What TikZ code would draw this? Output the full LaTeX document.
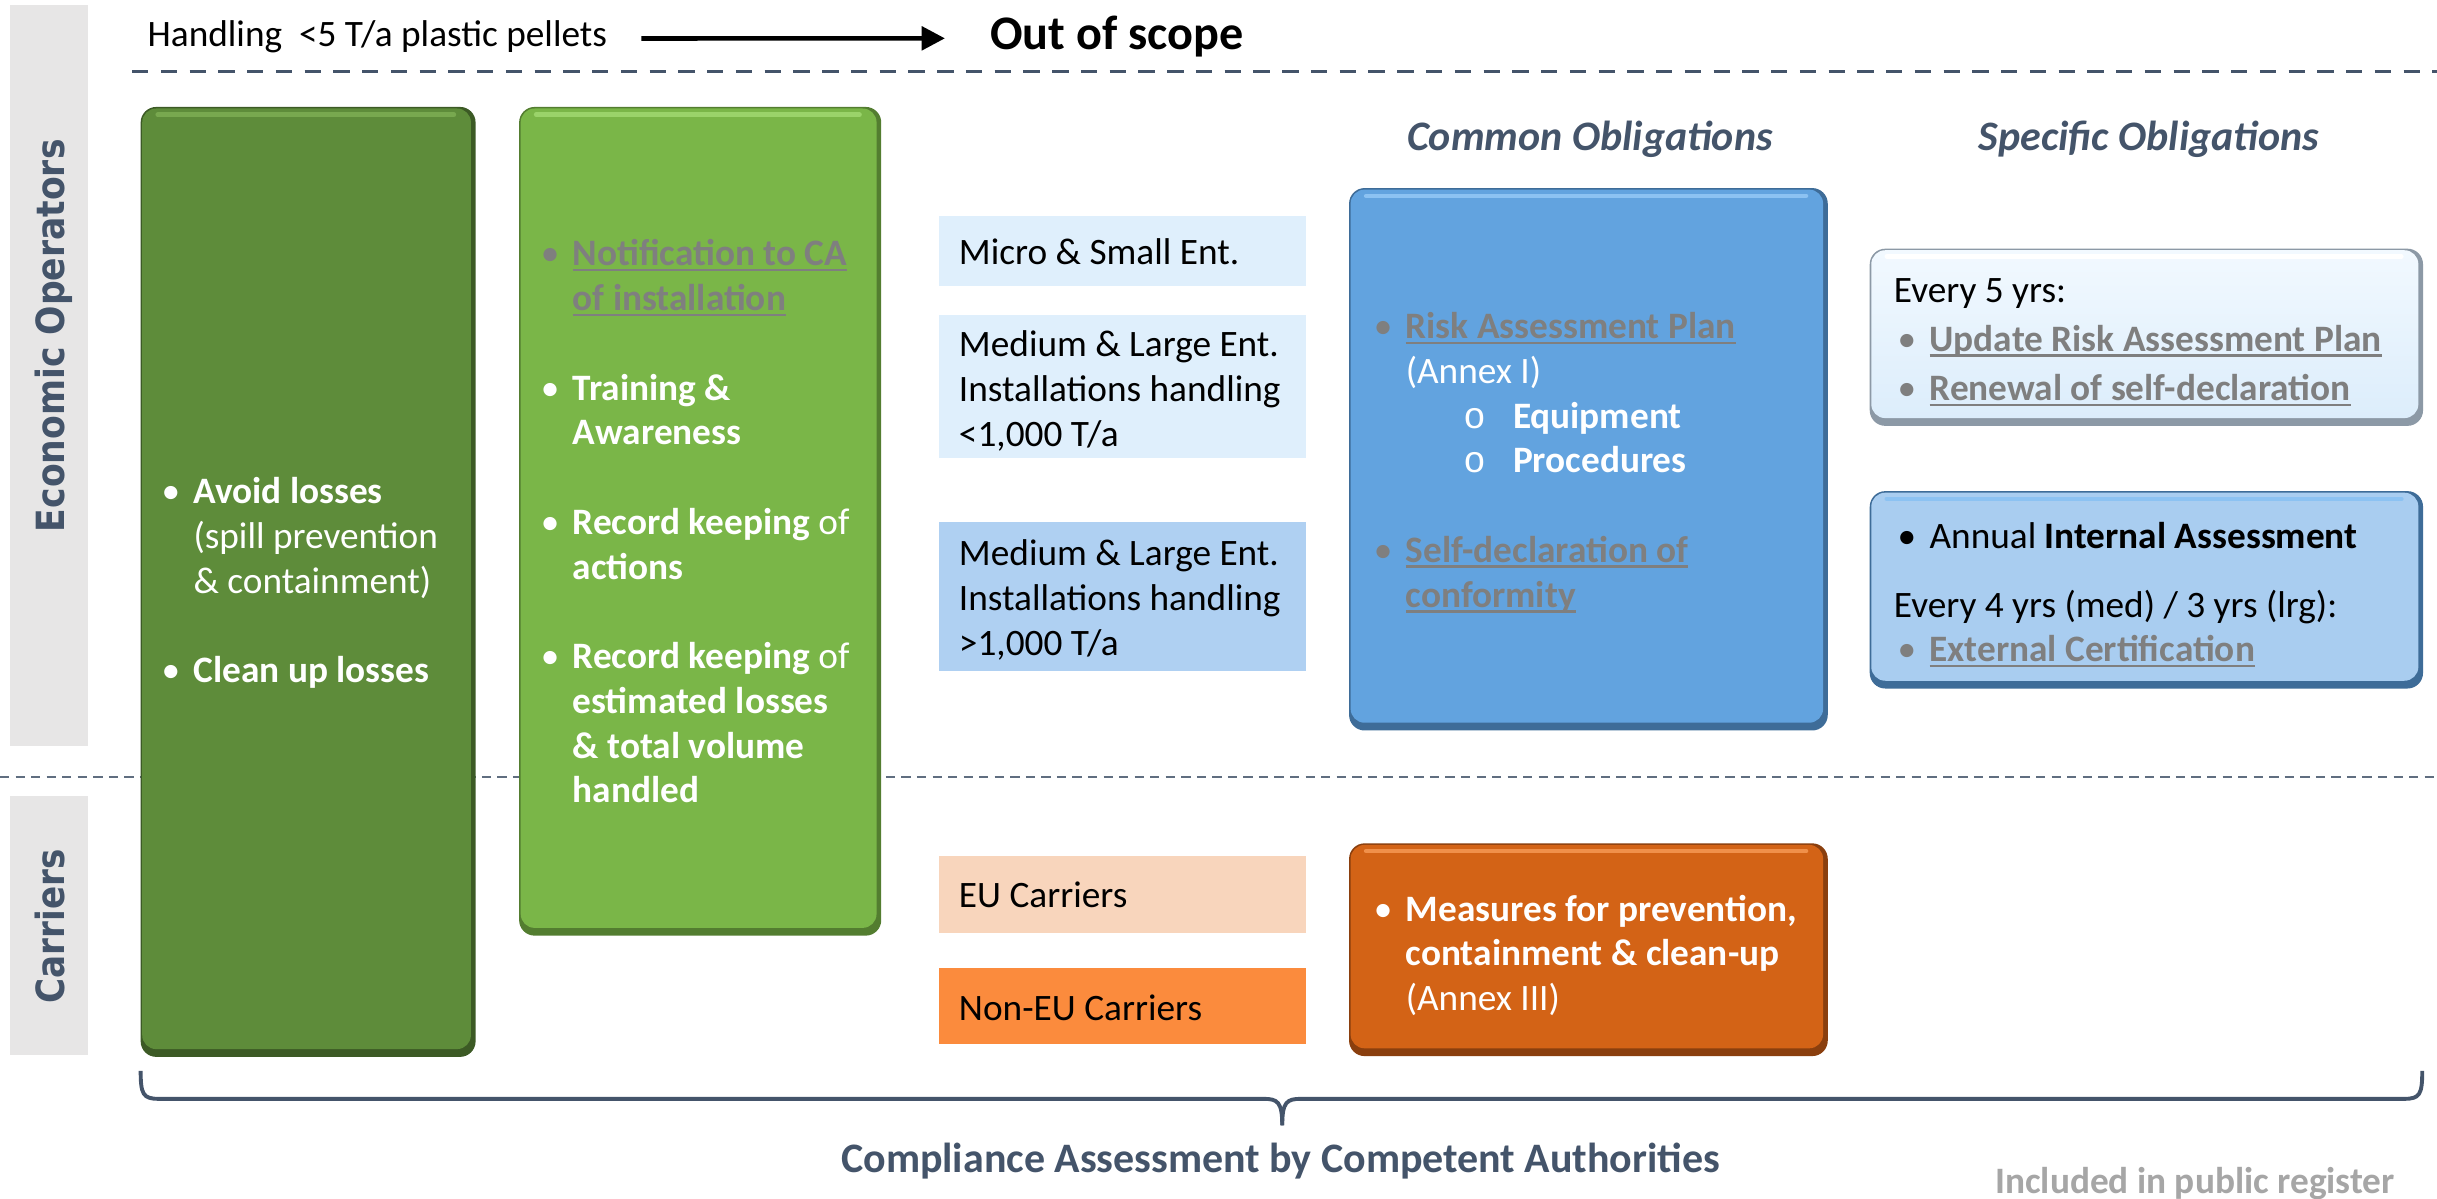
\documentclass[tikz,border=0pt]{standalone}
\usepackage{fontspec}
\setmainfont{Carlito}
\newfontfamily\verd{DejaVu Sans}
\newfontfamily\monofnt{Liberation Mono}
\usetikzlibrary{arrows.meta}
\definecolor{slate}{HTML}{44546A}
\definecolor{gbar}{HTML}{E7E6E6}
\definecolor{dgreen}{HTML}{5E8C3A}
\definecolor{dgreenE}{HTML}{3C5A25}
\definecolor{dgreenH}{HTML}{78A84F}
\definecolor{lgreen}{HTML}{7AB648}
\definecolor{lgreenE}{HTML}{537D30}
\definecolor{lgreenH}{HTML}{9AD36A}
\definecolor{bbox}{HTML}{62A3DF}
\definecolor{bboxE}{HTML}{3E6C98}
\definecolor{bboxH}{HTML}{8CC2F2}
\definecolor{obox}{HTML}{D36316}
\definecolor{oboxE}{HTML}{8A3F0E}
\definecolor{oboxH}{HTML}{F0904A}
\definecolor{lblue}{HTML}{DFEFFC}
\definecolor{mblue}{HTML}{AFD0F2}
\definecolor{peach}{HTML}{F8D5BC}
\definecolor{lorange}{HTML}{FB8B3D}
\definecolor{tgray}{HTML}{7F7F7F}
\definecolor{incgray}{HTML}{A6A6A6}
\definecolor{sonefill}{HTML}{DCEDFB}
\definecolor{sonetop}{HTML}{F2F9FF}
\definecolor{stwofill}{HTML}{A9CDF0}
\definecolor{sboxE}{HTML}{8C99A6}
% x0 y0 x1 y1 {fill style} edge highlight
\newcommand\bevbox[7]{%
  \fill[#6, rounded corners=10pt] (#1,#2) rectangle (#3,#4);
  \path[#5, rounded corners=9pt] (#1+1,#2+1) rectangle (#3-3,#4-5);
  \draw[#7, line width=3pt, line cap=round] (#1+11,#2+5) -- (#3-14,#2+5);
}
\newcommand\bul{\makebox[20.5pt][l]{\textbullet}}
\newcommand\ind{\hspace*{20.5pt}}
\newsavebox\gulbox
\newcommand\gul[1]{{\color{tgray}\sbox\gulbox{\textbf{#1}}\rlap{\rule[-3.5pt]{\wd\gulbox}{1.5pt}}\usebox\gulbox}}
\newcommand\subb{\makebox[69pt][l]{\hspace*{37pt}{\monofnt o}}}
\begin{document}
\begin{tikzpicture}[x=1pt,y=-1pt,
  txt/.style={anchor=base west, inner sep=0pt, outer sep=0pt, align=left, font=\fontsize{24}{28.8}\selectfont},
  side/.style={anchor=base, rotate=90, inner sep=0pt, text=slate, font=\verd\bfseries\fontsize{25}{30}\selectfont},
  head/.style={anchor=base, inner sep=0pt, text=slate, font=\bfseries\itshape\fontsize{27}{32}\selectfont}]
\useasboundingbox (0,0) rectangle (1568,771);
\fill[white] (0,0) rectangle (1568,771);
% side bars
\fill[gbar] (6.5,3) rectangle (56.5,480);
\fill[gbar] (6.5,512) rectangle (56.5,679);
\node[side] (eo) at (41.5,216) {\scalebox{0.89}[1]{Economic Operators}};
\node[side] (car) at (41.5,596) {\scalebox{0.88}[1]{Carriers}};
% dashed separators
\draw[slate, line width=2pt, dash pattern=on 10.5pt off 8pt] (85,46) -- (1568,46);
\draw[slate!85, line width=1.2pt, dash pattern=on 6pt off 4pt] (0,500) -- (1568,500);
% top line
\node[txt] (hand) at (95,30) {Handling\ \ <5 T/a plastic pellets};
\node[anchor=base west, inner sep=0pt, font=\bfseries\fontsize{31}{36}\selectfont] (oos) at (637,32) {Out of scope};
\draw[-{Triangle[length=15pt,width=15pt]}, line width=3pt] ([xshift=22pt,yshift=-1pt]hand.east) -- ([xshift=-29pt,yshift=-1pt]oos.west);
% big boxes
\bevbox{90.5}{68.8}{306}{680}{fill=dgreen}{dgreenE}{dgreenH}
\bevbox{334}{68.8}{567}{602}{fill=lgreen}{lgreenE}{lgreenH}
\bevbox{868}{121}{1176}{470}{fill=bbox}{bboxE}{bboxH}
\bevbox{868}{542.6}{1176}{679.5}{fill=obox}{oboxE}{oboxH}
\bevbox{1203}{160}{1559}{274}{top color=sonetop, bottom color=sonefill}{sboxE}{white}
\bevbox{1203}{316}{1559}{443}{fill=stwofill}{bboxE}{bboxH}
% category boxes
\fill[lblue] (604,139) rectangle (840,184);
\fill[lblue] (604,202.6) rectangle (840,294.6);
\fill[mblue] (604,335.7) rectangle (840,431.8);
\fill[peach] (604,551) rectangle (840,600);
\fill[lorange] (604,623) rectangle (840,672);
% texts in green boxes (node base = baseline of last line)
\node[txt, text=white] (dgt) at (104,439.2) {\bul\textbf{Avoid losses}\\ \ind(spill prevention\\ \ind\& containment)\\[28.8pt] \bul\textbf{Clean up losses}};
\node[txt, text=white] (lgt) at (348,516.6) {{\color{tgray}\bul}\gul{Notification to CA}\\ \ind\gul{of installation}\\[28.8pt]
\bul\textbf{Training \&}\\ \ind\textbf{Awareness}\\[28.8pt]
\bul\textbf{Record keeping} of\\ \ind\textbf{actions}\\[28.8pt]
\bul\textbf{Record keeping} of\\ \ind\textbf{estimated losses}\\ \ind\textbf{\& total volume}\\ \ind\textbf{handled}};
% category texts
\node[txt] (micro) at (617,170) {Micro \& Small Ent.};
\node[txt] (med1) at (617,287) {Medium \& Large Ent.\\ Installations handling\\ <1,000 T/a};
\node[txt] (med2) at (617,421.6) {Medium \& Large Ent.\\ Installations handling\\ >1,000 T/a};
\node[txt] (euc) at (617,584) {EU Carriers};
\node[txt] (neu) at (617,656.6) {Non-EU Carriers};
% headers
\node[head] (co) at (1023,97) {Common Obligations};
\node[head] (so) at (1382.7,97) {Specific Obligations};
% common obligations
\node[txt, text=white] (cot) at (884,390.6) {{\color{tgray}\bul}\gul{Risk Assessment Plan}\\
\ind(Annex I)\\
\ind\subb\textbf{Equipment}\\
\ind\subb\textbf{Procedures}\\[28.8pt]
{\color{tgray}\bul}\gul{Self-declaration of}\\
\ind\gul{conformity}};
\node[txt, text=white] (ort) at (884,650.2) {\bul\textbf{Measures for prevention,}\\ \ind\textbf{containment \& clean-up}\\ \ind(Annex III)};
% specific obligations
\node[txt] (s1a) at (1218.6,194.7) {Every 5 yrs:};
\node[txt] (s1b) at (1221,226) {{\color{tgray}\bul}\gul{Update Risk Assessment Plan}};
\node[txt] (s1c) at (1221,258) {{\color{tgray}\bul}\gul{Renewal of self-declaration}};
\node[txt] (s2a) at (1221,353) {\bul Annual \textbf{Internal Assessment}};
\node[txt] (s2b) at (1218.6,397) {Every 4 yrs (med) / 3 yrs (lrg):};
\node[txt] (s2c) at (1221,425.7) {{\color{tgray}\bul}\gul{External Certification}};
% brace
\draw[slate, line width=2.5pt, line join=round] (90.5,689) .. controls (90.5,704) and (92,707) .. (102,707) -- (813,707) .. controls (822,707) and (825,709) .. (825,724);
\draw[slate, line width=2.5pt, line join=round] (825,724) .. controls (825,709) and (828,707) .. (837,707) -- (1547,707) .. controls (1557,707) and (1558.5,704) .. (1558.5,689);
\node[anchor=base, inner sep=0pt, text=slate, font=\bfseries\fontsize{27}{32}\selectfont] (cmp) at (824,754.5) {Compliance Assessment by Competent Authorities};
\node[anchor=base east, inner sep=0pt, text=incgray, font=\bfseries\fontsize{24}{28}\selectfont] (inc) at (1541,768) {Included in public register};
\end{tikzpicture}
\end{document}
